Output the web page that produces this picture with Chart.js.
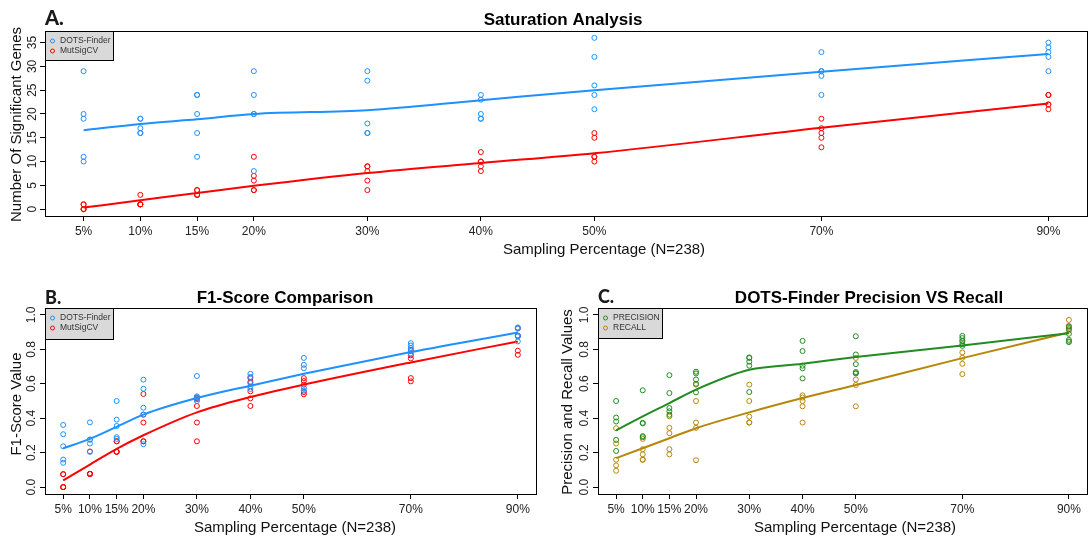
<!DOCTYPE html>
<html>
<head>
<meta charset="utf-8">
<script src="https://cdn.jsdelivr.net/npm/chart.js@4.4.1/dist/chart.umd.min.js"></script>
<style>
body { margin: 0; background: #fff; }
#wrap { position: relative; width: 1092px; height: 540px; }
canvas { position: absolute; left: 0; top: 0; }
</style>
</head>
<body>
<div id="wrap">
  <canvas id="chartA" width="1092" height="540"></canvas>
  <canvas id="chartB" width="1092" height="540"></canvas>
  <canvas id="chartC" width="1092" height="540"></canvas>
</div>
<script>
// *** DATA ***
const pct = [5, 10, 15, 20, 30, 40, 50, 70, 90];
const pctLabels = ['5%', '10%', '15%', '20%', '30%', '40%', '50%', '70%', '90%'];
const yTicksGenes = [0, 5, 10, 15, 20, 25, 30, 35];
const yTicksScore = [0, 0.2, 0.4, 0.6, 0.8, 1.0];

// A. number of significant genes, 5 runs per sampling level
const dotsGenes = [
    [29, 20, 19, 11, 10],
    [19, 19, 17, 16, 16],
    [24, 24, 20, 16, 11],
    [29, 24, 20, 20, 8],
    [29, 27, 18, 16, 16],
    [24, 23, 20, 19, 19],
    [36, 32, 26, 24, 21],
    [33, 29, 29, 28, 24],
    [35, 34, 33, 32, 29]
];
const mutGenes = [
    [1, 1, 0, 0, 0],
    [3, 1, 1, 1, 1],
    [4, 4, 3, 3, 3],
    [11, 7, 6, 4, 4],
    [9, 9, 8, 6, 4],
    [12, 10, 10, 9, 8],
    [16, 15, 11, 11, 10],
    [19, 17, 16, 15, 13],
    [24, 24, 22, 22, 21]
];
const dotsGenesFit = [16.6, 17.9, 18.9, 20.0, 20.8, 22.9, 25.0, 28.9, 32.6];
const mutGenesFit = [0.33, 1.86, 3.4, 4.9, 7.6, 9.7, 11.75, 17.1, 22.2];

// B. F1 scores
const dotsF1 = [
    [0.361, 0.307, 0.237, 0.160, 0.141],
    [0.376, 0.276, 0.276, 0.253, 0.205],
    [0.50, 0.392, 0.355, 0.29, 0.28],
    [0.624, 0.571, 0.461, 0.421, 0.249],
    [0.645, 0.527, 0.52, 0.51, 0.50],
    [0.658, 0.64, 0.604, 0.585, 0.57],
    [0.75, 0.71, 0.69, 0.575, 0.56],
    [0.836, 0.822, 0.807, 0.79, 0.775],
    [0.927, 0.92, 0.88, 0.875, 0.846]
];
const mutF1 = [
    [0.075, 0.075, 0, 0, 0],
    [0.207, 0.077, 0.077, 0.077, 0.077],
    [0.266, 0.266, 0.205, 0.205, 0.205],
    [0.541, 0.421, 0.375, 0.266, 0.266],
    [0.52, 0.515, 0.471, 0.375, 0.266],
    [0.633, 0.61, 0.556, 0.515, 0.471],
    [0.633, 0.616, 0.595, 0.552, 0.539],
    [0.797, 0.765, 0.747, 0.633, 0.614],
    [0.923, 0.878, 0.878, 0.792, 0.768]
];
const dotsF1Fit = [0.226, 0.28, 0.35, 0.421, 0.517, 0.589, 0.658, 0.784, 0.898];
const mutF1Fit = [0.039, 0.131, 0.222, 0.301, 0.434, 0.523, 0.595, 0.724, 0.846];

// C. DOTS-Finder precision / recall
const precision = [
    [0.50, 0.404, 0.381, 0.274, 0.21],
    [0.562, 0.373, 0.37, 0.296, 0.29],
    [0.65, 0.546, 0.459, 0.44, 0.42],
    [0.67, 0.66, 0.625, 0.60, 0.55],
    [0.753, 0.75, 0.728, 0.705, 0.552],
    [0.849, 0.79, 0.705, 0.69, 0.631],
    [0.876, 0.77, 0.714, 0.668, 0.66],
    [0.878, 0.865, 0.85, 0.83, 0.82],
    [0.932, 0.917, 0.89, 0.855, 0.842]
];
const recall = [
    [0.342, 0.253, 0.159, 0.126, 0.095],
    [0.28, 0.22, 0.19, 0.159, 0.159],
    [0.411, 0.344, 0.313, 0.22, 0.19],
    [0.595, 0.50, 0.375, 0.344, 0.156],
    [0.595, 0.50, 0.409, 0.375, 0.375],
    [0.533, 0.52, 0.50, 0.469, 0.375],
    [0.75, 0.662, 0.625, 0.593, 0.469],
    [0.846, 0.782, 0.751, 0.716, 0.656],
    [0.971, 0.936, 0.925, 0.909, 0.846]
];
const precisionFit = [0.330, 0.411, 0.488, 0.566, 0.681, 0.716, 0.755, 0.822, 0.894];
const recallFit = [0.168, 0.226, 0.284, 0.342, 0.434, 0.517, 0.593, 0.749, 0.898];

const FONT = '"Liberation Sans", Arial, Helvetica, sans-serif';

// titles, rotated y tick labels, box and legend (R style)
const decor = {
    id: 'decor',
    afterDraw(chart, args, o) {
        const ctx = chart.ctx;
        const a = chart.chartArea;
        const ys = chart.scales.y;
        ctx.save();
        ctx.strokeStyle = '#000';
        ctx.lineWidth = 1;
        ctx.strokeRect(Math.round(a.left) + 0.5, Math.round(a.top) + 0.5,
            Math.round(a.right - a.left), Math.round(a.bottom - a.top));

        ctx.fillStyle = '#222';
        ctx.font = '12px ' + FONT;
        ctx.textAlign = 'center';
        ctx.textBaseline = 'middle';
        ys.ticks.forEach(t => {
            ctx.save();
            ctx.translate(o.yTickX, ys.getPixelForValue(t.value));
            ctx.rotate(-Math.PI / 2);
            ctx.fillText(t.value.toFixed(o.yDigits), 0, 0);
            ctx.restore();
        });

        ctx.fillStyle = '#111';
        ctx.font = '15px ' + FONT;
        ctx.textBaseline = 'alphabetic';
        ctx.fillText(o.xTitle, o.xTitleX, o.xTitleY);
        ctx.save();
        ctx.translate(o.yTitleX, o.yTitleY);
        ctx.rotate(-Math.PI / 2);
        ctx.textBaseline = 'middle';
        ctx.fillText(o.yTitle, 0, 0);
        ctx.restore();

        ctx.fillStyle = '#000';
        ctx.font = 'bold 17px ' + FONT;
        ctx.fillText(o.title, o.titleX, o.titleY);

        ctx.textAlign = 'left';
        ctx.fillStyle = '#1a1a1a';
        ctx.font = o.letterFont;
        ctx.fillText(o.letter, Math.round(a.left), o.letterY);

        // legend box in the top left corner
        const L = Math.round(a.left) + 0.5, T = Math.round(a.top) + 0.5;
        ctx.fillStyle = '#d9d9d9';
        ctx.fillRect(L, T, o.legendW, o.legendH);
        ctx.strokeStyle = '#000';
        ctx.strokeRect(L, T, o.legendW, o.legendH);
        ctx.font = '8.5px ' + FONT;
        ctx.textBaseline = 'middle';
        chart.data.datasets.filter(d => d.inLegend).forEach((d, i) => {
            const y = T + 9.5 + i * 10;
            ctx.strokeStyle = d.borderColor;
            ctx.beginPath();
            ctx.arc(L + 7, y, 2, 0, Math.PI * 2);
            ctx.stroke();
            ctx.fillStyle = '#333';
            ctx.fillText(d.label, L + 14.5, y);
        });
        ctx.restore();
    }
};

const toPoints = (runs) => runs.flatMap((vals, i) => vals.map(v => ({ x: pct[i], y: v })));
const toCurve = (fit) => fit.map((v, i) => ({ x: pct[i], y: v }));

const makePanel = (id, series, yMin, yMax, yTicks, padding, deco) => {
    const datasets = [];
    series.forEach(s => {
        datasets.push({
            label: s.name,
            inLegend: true,
            data: toPoints(s.runs),
            borderColor: s.color,
            backgroundColor: 'rgba(0,0,0,0)',
            pointRadius: 2.5,
            pointBorderWidth: 1,
            showLine: false
        });
        datasets.push({
            label: s.name + ' fit',
            data: toCurve(s.fit),
            borderColor: s.color,
            borderWidth: 2,
            pointRadius: 0,
            showLine: true,
            tension: 0.4,
            cubicInterpolationMode: 'monotone'
        });
    });
    return new Chart(document.getElementById(id), {
        type: 'scatter',
        data: { datasets },
        options: {
            responsive: false,
            animation: false,
            events: [],
            layout: { padding },
            scales: {
                x: {
                    type: 'linear',
                    min: 1.6,
                    max: 93.4,
                    afterBuildTicks: (s) => { s.ticks = pct.map(v => ({ value: v })); },
                    afterFit: (s) => { s.height = 30; },
                    border: { display: false },
                    grid: { drawOnChartArea: false, drawTicks: true, tickLength: 5, color: '#000' },
                    ticks: {
                        autoSkip: false,
                        maxRotation: 0,
                        padding: 3,
                        color: '#222',
                        font: { family: FONT, size: 12 },
                        callback: (v) => pctLabels[pct.indexOf(v)]
                    }
                },
                y: {
                    min: yMin,
                    max: yMax,
                    afterBuildTicks: (s) => { s.ticks = yTicks.map(v => ({ value: v })); },
                    afterFit: (s) => { s.width = 45; },
                    border: { display: false },
                    grid: { drawOnChartArea: false, drawTicks: true, tickLength: 5, color: '#000' },
                    ticks: { display: false }
                }
            },
            plugins: {
                legend: { display: false },
                tooltip: { enabled: false },
                decor: deco
            }
        },
        plugins: [decor]
    });
};

makePanel('chartA', [
    { name: 'DOTS-Finder', color: '#1e90ff', runs: dotsGenes, fit: dotsGenesFit },
    { name: 'MutSigCV', color: '#ff0000', runs: mutGenes, fit: mutGenesFit }
], -1.44, 37.44, yTicksGenes, { left: 0, right: 4, top: 31, bottom: 294 }, {
    title: 'Saturation Analysis', titleX: 563, titleY: 25,
    letter: 'A.', letterFont: '900 20px Lato, sans-serif', letterY: 25,
    xTitle: 'Sampling Percentage (N=238)', xTitleX: 604, xTitleY: 253.5,
    yTitle: 'Number Of Significant Genes', yTitleX: 17, yTitleY: 124.5,
    yTickX: 33, yDigits: 0, legendW: 68, legendH: 29
});

makePanel('chartB', [
    { name: 'DOTS-Finder', color: '#1e90ff', runs: dotsF1, fit: dotsF1Fit },
    { name: 'MutSigCV', color: '#ff0000', runs: mutF1, fit: mutF1Fit }
], -0.04, 1.04, yTicksScore, { left: 0, right: 556, top: 308, bottom: 16 }, {
    title: 'F1-Score Comparison', titleX: 285, titleY: 303,
    letter: 'B.', letterFont: '900 18px Lato, sans-serif', letterY: 304,
    xTitle: 'Sampling Percentage (N=238)', xTitleX: 295, xTitleY: 532,
    yTitle: 'F1-Score Value', yTitleX: 17, yTitleY: 404,
    yTickX: 32, yDigits: 1, legendW: 68, legendH: 31
});

makePanel('chartC', [
    { name: 'PRECISION', color: '#228b22', runs: precision, fit: precisionFit },
    { name: 'RECALL', color: '#b8860b', runs: recall, fit: recallFit }
], -0.04, 1.04, yTicksScore, { left: 553, right: 3, top: 308, bottom: 16 }, {
    title: 'DOTS-Finder Precision VS Recall', titleX: 869, titleY: 303,
    letter: 'C.', letterFont: '900 18px Lato, sans-serif', letterY: 303,
    xTitle: 'Sampling Percentage (N=238)', xTitleX: 855, xTitleY: 532,
    yTitle: 'Precision and Recall Values', yTitleX: 568, yTitleY: 402,
    yTickX: 585, yDigits: 1, legendW: 64, legendH: 30
});
</script>
</body>
</html>
